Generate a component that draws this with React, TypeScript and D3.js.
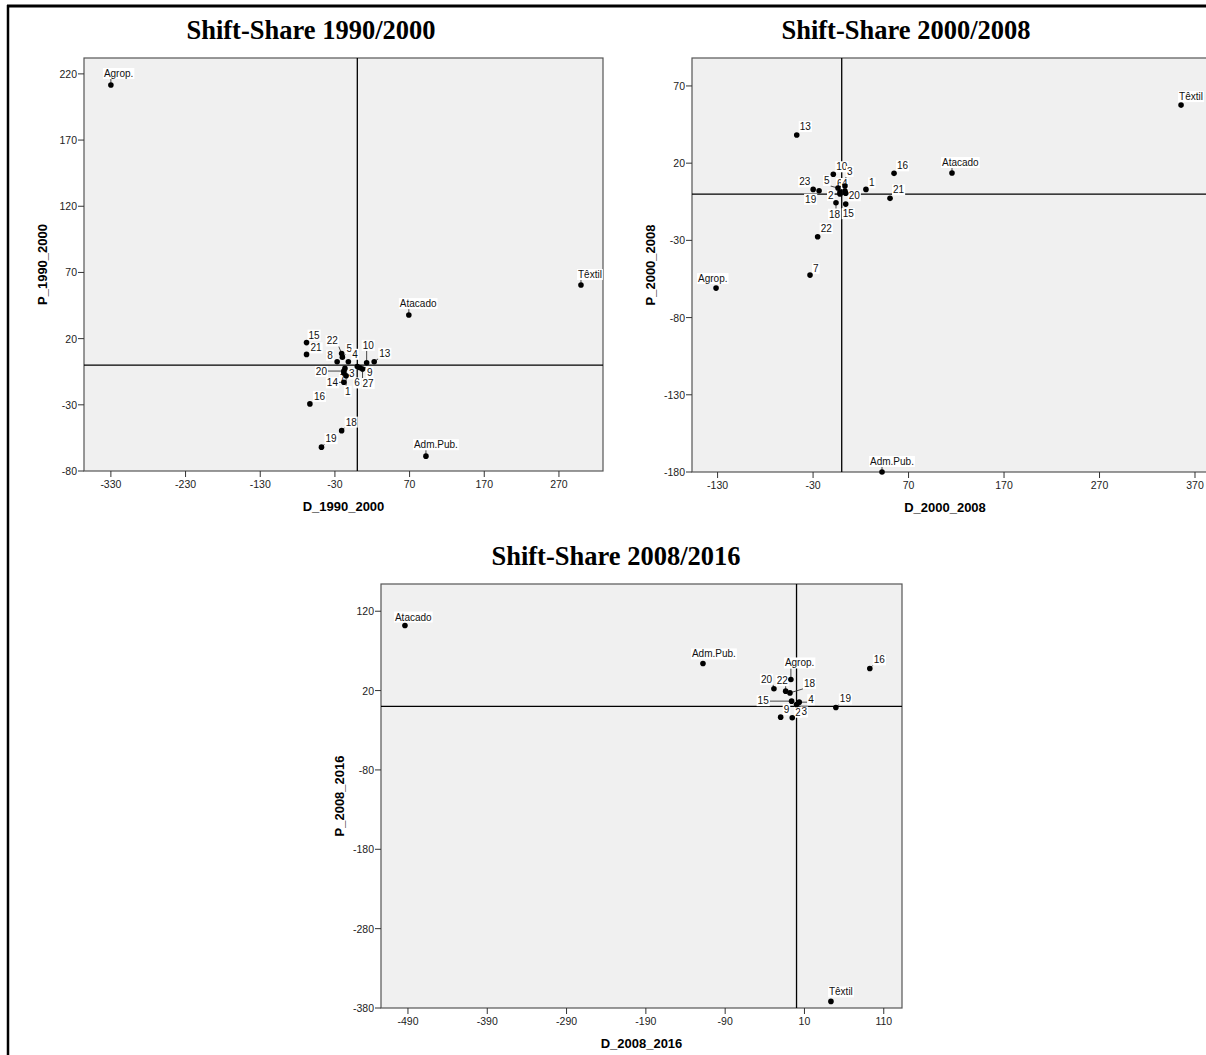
import React from "react";
import * as d3 from "d3";

// ---------- Panel 1: 1990/2000 ----------
const names1 = ["Agrop.", "Têxtil", "Atacado", "Adm.Pub.", "15", "21", "22", "5", "8", "4", "10", "13", "6", "9", "27", "3", "20", "7", "14", "1", "16", "18", "19"];
const d1 = [-330, 299.5, 69, 91.9, -68, -68, -21, -20, -27, -12, 12.5, 22.6, 0, 3.5, 7, -16.6, -18, -18, -18, -15, -63.5, -21, -48];
const p1 = [211.6, 60.5, 37.8, -68.8, 17, 8.1, 8.8, 6, 2.5, 2.5, 1.7, 2.5, -1, -2, -3, -2.5, -4.5, -6, -13, -8, -29.3, -49.5, -62];
const nudge1: [number, number][] = [[-7, -8], [-3, -7], [-9, -8], [-12, -8], [2, -4], [4, -3], [-15, -9], [4, -5], [-10, -3], [4, -4], [-4, -14], [5, -5], [-3, 20], [7, 8], [0, 18], [4, 9], [-28, 4], [-4, 9], [-17, 4], [-1, 19], [4, -4], [4, -5], [4, -5]];
const xTicks1 = [-330, -230, -130, -30, 70, 170, 270];
const yTicks1 = [-80, -30, 20, 70, 120, 170, 220];

// ---------- Panel 2: 2000/2008 ----------
const names2 = ["Agrop.", "Têxtil", "Atacado", "Adm.Pub.", "13", "16", "1", "21", "23", "19", "10", "3", "5", "6", "4", "2", "20", "18", "15", "22", "7"];
const d2 = [-131.6, 355.4, 115.5, 42.2, -47.1, 54.8, 25.4, 50.6, -29.9, -23.7, -8.8, 3.4, -3.9, -1.8, 3.4, -1.8, 4.2, -6, 4.2, -25.2, -33.2];
const p2 = [-60.9, 57.6, 13.6, -180, 38.2, 13.4, 3, -2.8, 3, 2.1, 12.8, 5.2, 3.9, 1.3, 1.9, 0, 0.5, -5.6, -6.5, -27.7, -52.5];
const nudge2: [number, number][] = [[-18, -6], [-2, -5], [-10, -7], [-12, -7], [3, -5], [3, -4], [3, -3], [3, -5], [-14, -4], [-14, 12], [3, -4], [2, -11], [-14, -4], [-3, -5], [-3, -4], [-12, 5], [3, 6], [-7, 15], [-3, 13], [3, -5], [3, -3]];
const xTicks2 = [-130, -30, 70, 170, 270, 370];
const yTicks2 = [-180, -130, -80, -30, 20, 70];

// ---------- Panel 3: 2008/2016 ----------
const names3 = ["Atacado", "Adm.Pub.", "16", "19", "Têxtil", "Agrop.", "20", "22", "18", "15", "4", "9", "2", "3"];
const d3x = [-493.8, -118, 92.4, 49.6, 43.4, -7.1, -28.5, -13.7, -8.3, -6.2, 3.4, -20, -5.4, 0];
const p3 = [102, 54.2, 47.9, -1.3, -371.7, 34, 22.3, 19.3, 17.1, 6.7, 5.4, -13.5, -14.2, 2.5];
const nudge3: [number, number][] = [[-10, -5], [-11, -6], [4, -5], [4, -5], [-2, -6], [-6, -13], [-13, -6], [-9, -7], [14, -6], [-34, 3], [9, 1], [3, -4], [3, -2], [5, 11]];
const xTicks3 = [-490, -390, -290, -190, -90, 10, 110];
const yTicks3 = [-380, -280, -180, -80, 20, 120];

type Panel = {
  title: string;
  titleX: number;
  titleY: number;
  xName: string;
  yName: string;
  l: number; r: number; t: number; b: number;
  xDomain: [number, number];
  yDomain: [number, number];
  xTicks: number[];
  yTicks: number[];
  names: string[];
  xs: number[];
  ys: number[];
  nudge: [number, number][];
  xNameX?: number;
};

const panels: Panel[] = [
  { title: "Shift-Share 1990/2000", titleX: 311, titleY: 39, xName: "D_1990_2000", yName: "P_1990_2000",
    l: 84, r: 603, t: 58, b: 471, xDomain: [-366, 329], yDomain: [-80, 232], xTicks: xTicks1, yTicks: yTicks1,
    names: names1, xs: d1, ys: p1, nudge: nudge1 },
  { title: "Shift-Share 2000/2008", titleX: 906, titleY: 39, xName: "D_2000_2008", yName: "P_2000_2008",
    l: 692, r: 1214, t: 58, b: 472, xDomain: [-156.8, 389.9], yDomain: [-180, 88.1], xTicks: xTicks2, yTicks: yTicks2,
    names: names2, xs: d2, ys: p2, nudge: nudge2, xNameX: 945 },
  { title: "Shift-Share 2008/2016", titleX: 616, titleY: 565, xName: "D_2008_2016", yName: "P_2008_2016",
    l: 381, r: 902, t: 584, b: 1008, xDomain: [-524, 133], yDomain: [-380, 154.3], xTicks: xTicks3, yTicks: yTicks3,
    names: names3, xs: d3x, ys: p3, nudge: nudge3 },
];

const SANS = "'Liberation Sans', Arial, Helvetica, sans-serif";
const SERIF = "'Liberation Serif', 'Times New Roman', serif";
const LABEL_SIZE = 10;

let ctx: CanvasRenderingContext2D | null = null;
function textWidth(s: string): number {
  if (!ctx) {
    const c = document.createElement("canvas");
    ctx = c.getContext("2d");
  }
  if (!ctx) return s.length * 5.6;
  ctx.font = `${LABEL_SIZE}px ${SANS}`;
  return ctx.measureText(s).width;
}

function PanelView({ p, idx }: { p: Panel; idx: number }) {
  const x = d3.scaleLinear().domain(p.xDomain).range([p.l, p.r]);
  const y = d3.scaleLinear().domain(p.yDomain).range([p.b, p.t]);
  const clipId = `clip${idx}`;
  return (
    <g>
      <text x={p.titleX} y={p.titleY} textAnchor="middle" fontFamily={SERIF} fontWeight="bold" fontSize={26.5}>
        {p.title}
      </text>
      <defs>
        <clipPath id={clipId}>
          <rect x={p.l} y={p.t} width={p.r - p.l} height={p.b - p.t} />
        </clipPath>
      </defs>
      <rect x={p.l} y={p.t} width={p.r - p.l} height={p.b - p.t} fill="#f0f0f0" stroke="#555" strokeWidth={1.2} />
      <g clipPath={`url(#${clipId})`}>
        <line x1={x(0)} x2={x(0)} y1={p.t} y2={p.b} stroke="#000" strokeWidth={1.3} />
        <line x1={p.l} x2={p.r} y1={y(0)} y2={y(0)} stroke="#000" strokeWidth={1.3} />
      </g>
      {p.yTicks.map((t) => (
        <g key={"y" + t}>
          <line x1={p.l - 6} x2={p.l} y1={y(t)} y2={y(t)} stroke="#333" strokeWidth={1} />
          <text x={p.l - 7} y={y(t) + 4} textAnchor="end" fontFamily={SANS} fontSize={10.5} fill="#222">
            {t}
          </text>
        </g>
      ))}
      {p.xTicks.map((t) => {
        const tx = x(t);
        const w = textWidth(String(t)) * 1.05;
        const cx = Math.min(tx, 1204 - w / 2);
        return (
          <g key={"x" + t}>
            <line x1={tx} x2={tx} y1={p.b} y2={p.b + 6} stroke="#333" strokeWidth={1} />
            <text x={cx} y={p.b + 17} textAnchor="middle" fontFamily={SANS} fontSize={10.5} fill="#222">
              {t}
            </text>
          </g>
        );
      })}
      <text x={p.xNameX ?? (p.l + p.r) / 2} y={p.b + 40} textAnchor="middle" fontFamily={SANS} fontWeight="bold" fontSize={13}>
        {p.xName}
      </text>
      <text
        transform={`translate(${p.l - 37},${(p.t + p.b) / 2}) rotate(-90)`}
        textAnchor="middle"
        fontFamily={SANS}
        fontWeight="bold"
        fontSize={13}
      >
        {p.yName}
      </text>
      {p.names.map((n, i) => {
        const px = x(p.xs[i]);
        const py = y(p.ys[i]);
        const [dx, dy] = p.nudge[i];
        const tx = px + dx;
        const ty = py + dy;
        const w = textWidth(n);
        const bx0 = tx - 1, bx1 = tx + w + 1, by0 = ty - 9, by1 = ty + 2;
        const cx = Math.max(bx0, Math.min(px, bx1));
        const cy = Math.max(by0, Math.min(py, by1));
        const dist = Math.hypot(cx - px, cy - py);
        return (
          <g key={"pt" + i}>
            {dist > 4 && <line x1={px} y1={py} x2={cx} y2={cy} stroke="#333" strokeWidth={0.9} />}
            <rect x={bx0} y={by0} width={bx1 - bx0} height={by1 - by0} fill="#fff" />
            <text x={tx} y={ty} fontFamily={SANS} fontSize={LABEL_SIZE} fill="#111">
              {n}
            </text>
          </g>
        );
      })}
      {p.names.map((n, i) => (
        <circle key={"c" + i} cx={x(p.xs[i])} cy={y(p.ys[i])} r={2.8} fill="#000" />
      ))}
    </g>
  );
}

export default function App() {
  return (
    <svg
      width={1206}
      height={1055}
      viewBox="0 0 1206 1055"
      style={{ position: "absolute", left: 0, top: 0, background: "#fff" }}
    >
      <rect x={0} y={0} width={1206} height={1055} fill="#fff" />
      <line x1={7} x2={1206} y1={6} y2={6} stroke="#000" strokeWidth={3} />
      <line x1={8} x2={8} y1={5} y2={1055} stroke="#000" strokeWidth={2.5} />
      {panels.map((p, i) => (
        <PanelView key={i} p={p} idx={i} />
      ))}
    </svg>
  );
}
